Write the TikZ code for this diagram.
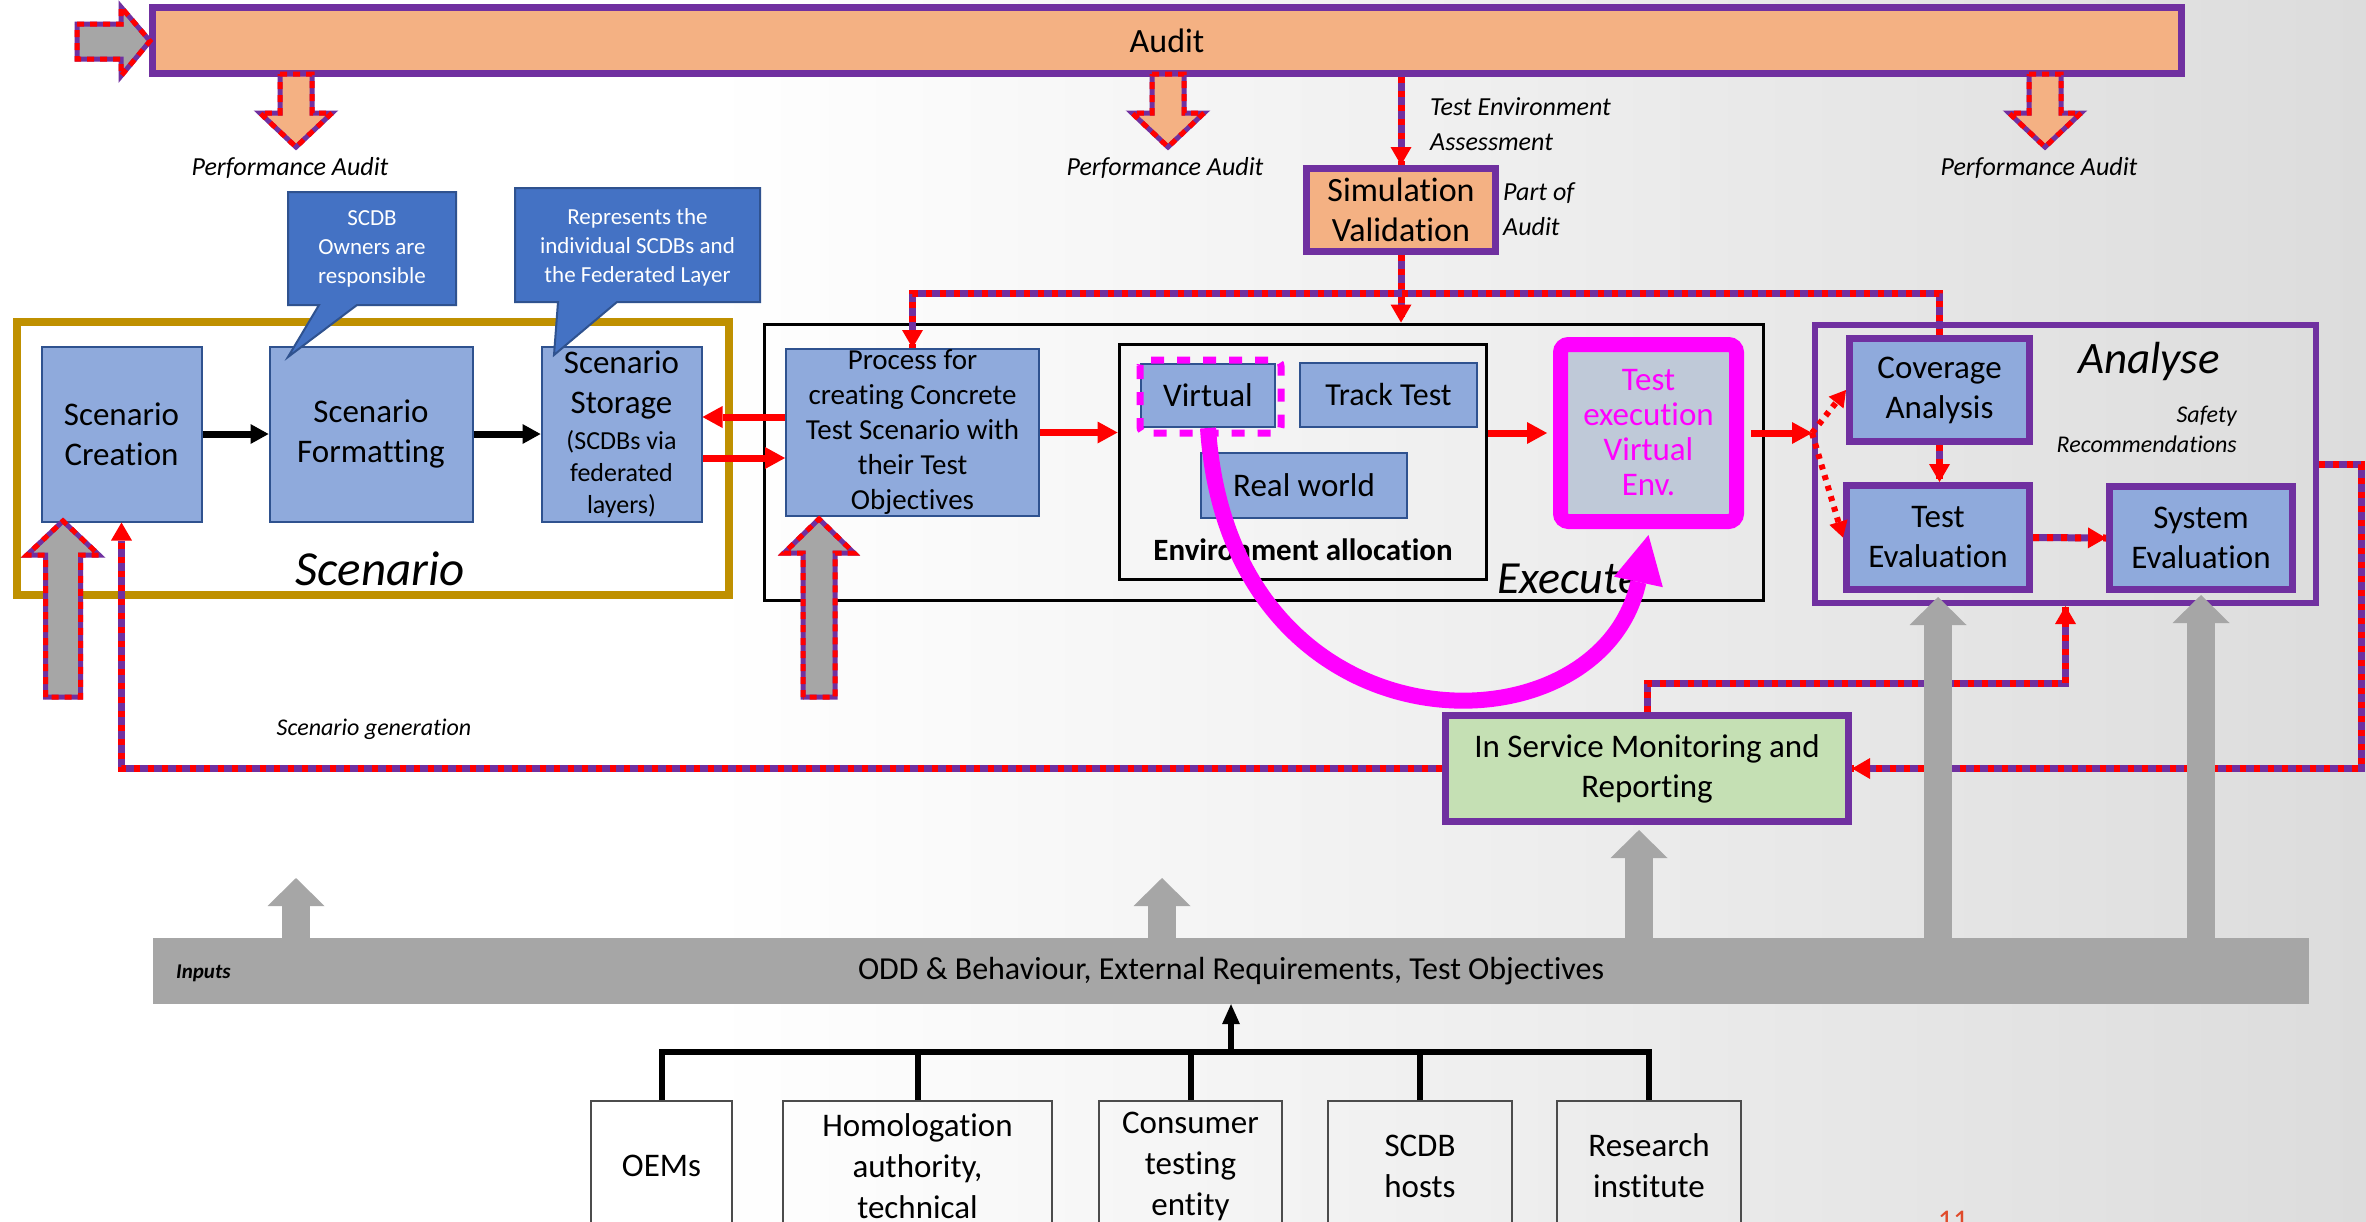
\documentclass[tikz,border=0pt]{standalone}
\usepackage{fontspec}
\setmainfont{Carlito}[Ligatures={NoCommon}]
\usetikzlibrary{arrows.meta}

\definecolor{auditpurple}{HTML}{7030A0}
\definecolor{auditorange}{HTML}{F4B183}
\definecolor{boxblue}{HTML}{8FAADC}
\definecolor{boxnavy}{HTML}{2F528F}
\definecolor{calloutblue}{HTML}{4472C4}
\definecolor{scenariogold}{HTML}{BF9000}
\definecolor{inputgray}{HTML}{A6A6A6}
\definecolor{monitorgreen}{HTML}{C5E0B4}
\definecolor{execfill}{HTML}{BFC9D8}
\definecolor{bgright}{HTML}{DCDCDC}
\definecolor{pagenum}{HTML}{E04A2A}
\definecolor{hotpink}{HTML}{FF00FF}

\pgfdeclarehorizontalshading{pagebg}{100bp}{color(0bp)=(white); color(40bp)=(white); color(75bp)=(bgright); color(100bp)=(bgright)}

\newcommand{\fsz}[2]{\fontsize{#1}{#2}\selectfont}

\tikzset{
  prline/.style={draw=auditpurple, line width=7pt,
    postaction={draw=red, line width=7pt, dash pattern=on 6pt off 8pt, -}},
  prtip/.style={-{Triangle[length=18pt,width=21pt,color=red,line width=0pt]}},
  blockpr/.style={draw=auditpurple, line width=5pt, line join=miter,
    postaction={draw=red, line width=5pt, dash pattern=on 7pt off 6pt}},
  redarrow/.style={draw=red, line width=7pt, -{Triangle[length=20pt,width=22pt,line width=0pt]}},
  reddot/.style={draw=red, line width=6pt, dash pattern=on 5pt off 6pt,
    -{Triangle[length=16pt,width=19pt,line width=0pt]}},
  blackarrow/.style={draw=black, line width=7pt, -{Triangle[length=18pt,width=20pt,line width=0pt]}},
  grayarrow/.style={draw=inputgray, line width=28pt, -{Triangle[length=28pt,width=57pt,line width=0pt]}},
  treeline/.style={draw=black, line width=6pt, line join=miter},
  bluebox/.style={rectangle, fill=boxblue, draw=boxnavy, line width=2pt, inner sep=0pt,
    align=center, font=\fsz{33}{40}},
  purplebox/.style={bluebox, draw=auditpurple, line width=7pt},
  auditbox/.style={rectangle, fill=auditorange, draw=auditpurple, line width=7pt, inner sep=0pt,
    align=center, font=\fsz{34}{40}},
  frame/.style={rectangle, inner sep=0pt},
  callout/.style={fill=calloutblue, draw=boxnavy, line width=2pt},
  callouttext/.style={text=white, align=center, inner sep=0pt, font=\fsz{23}{29}},
  lbl/.style={inner sep=0pt, font=\itshape\fsz{26}{35}},
  srcbox/.style={rectangle, draw=black!70, line width=2pt, minimum height=130pt, inner sep=0pt,
    align=center, font=\fsz{33}{41}},
}

\begin{document}
\begin{tikzpicture}[x=1pt,y=-1pt]
\useasboundingbox (0,0) rectangle (2366,1221);
\shade[shading=pagebg] (0,0) rectangle (2366,1221);

% ---------- audit band ----------
\node[auditbox, minimum width=2029pt, minimum height=66pt] (audit) at (1167,40.5) {Audit};
\draw[blockpr, fill=inputgray] (77,24) -- (121,24) -- (121,7) -- (150,41) -- (121,76) -- (121,59) -- (77,59) -- cycle;
\foreach \cx in {296,1168,2045}{
  \draw[blockpr, fill=auditorange] ({\cx-16},74) -- ({\cx+16},74) -- ({\cx+16},113) -- ({\cx+36},113)
    -- (\cx,147) -- ({\cx-36},113) -- ({\cx-16},113) -- cycle;
}
\node[lbl] (pa1) at (290,168) {Performance Audit};
\node[lbl] (pa2) at (1165,168) {Performance Audit};
\node[lbl] (pa3) at (2039,168) {Performance Audit};

\node[auditbox, minimum width=189pt, minimum height=83pt] (simval) at (1401,210) {Simulation\\Validation};
\node[lbl, anchor=west, align=left] (tealbl) at (1430,124.5) {Test Environment\\Assessment};
\node[lbl, anchor=west, align=left] (partlbl) at (1503,209.5) {Part of\\Audit};

% ---------- scenario block ----------
\node[frame, draw=scenariogold, line width=8pt, minimum width=712pt, minimum height=273pt] (scen) at (373,458.5) {};
\node[bluebox, minimum width=160pt, minimum height=175pt] (creation) at (121.5,434) {Scenario\\Creation};
\node[bluebox, minimum width=203pt, minimum height=175pt] (formatting) at (371,434) {Scenario\\Formatting};
\node[bluebox, minimum width=160pt, minimum height=175pt] (storage) at (621.5,434)
  {Scenario\\Storage\\[-4pt]{\fsz{26}{32}(SCDBs via}\\[-8pt]{\fsz{26}{32}federated}\\[-8pt]{\fsz{26}{32}layers)}};
\node[inner sep=0pt, font=\itshape\fsz{49}{58}] (scenlbl) at (380,569) {Scenario};

\draw[callout] (288,192) -- (456,192) -- (456,305) -- (357,305) -- (288,357) -- (319,305) -- (288,305) -- cycle;
\node[callouttext] (call1) at (372,249) {SCDB\\Owners are\\responsible};
\draw[callout] (515,188) -- (760,188) -- (760,302) -- (617,302) -- (554,355) -- (558,302) -- (515,302) -- cycle;
\node[callouttext] (call2) at (637.5,247) {Represents the\\individual SCDBs and\\the Federated Layer};

% ---------- execute block ----------
\node[frame, draw=black, line width=3pt, minimum width=999pt, minimum height=276pt] (exec) at (1263.5,462) {};
\node[inner sep=0pt, font=\itshape\fsz{46}{54}, anchor=base west] (execlbl) at (1497,593) {Execute};
\node[bluebox, minimum width=253pt, minimum height=167pt, font=\fsz{29}{35}] (process) at (912.5,432.5)
  {Process for\\creating Concrete\\Test Scenario with\\their Test\\Objectives};
\node[frame, draw=black, line width=3pt, minimum width=367pt, minimum height=235pt] (envalloc) at (1302.5,461.5) {};
\node[inner sep=0pt, font=\bfseries\fsz{31}{37}] (envlbl) at (1303,550) {Environment allocation};
\node[bluebox, minimum width=134pt, minimum height=63pt] (virtual) at (1208,395.5) {Virtual};
\draw[hotpink, line width=7pt, dash pattern=on 13pt off 13pt, rounded corners=6pt]
  ([yshift=3pt]virtual.north west) rectangle ([xshift=5pt,yshift=-5pt]virtual.south east);
\node[bluebox, minimum width=177pt, minimum height=64pt, font=\fsz{32}{38}] (track) at (1388.5,395) {Track Test};
\node[bluebox, minimum width=206pt, minimum height=65pt] (real) at (1304,485.5) {Real world};
\node[rectangle, draw=hotpink, line width=15pt, fill=execfill, rounded corners=8pt, minimum width=176pt,
  minimum height=177pt, text=hotpink, font=\fsz{33}{35}, align=center, inner sep=0pt] (testexec)
  at (1648.5,433) {Test\\execution\\Virtual\\Env.};

% ---------- analyse block ----------
\node[frame, draw=auditpurple, line width=6pt, minimum width=501pt, minimum height=278pt] (analyse) at (2065.5,464) {};
\node[inner sep=0pt, font=\itshape\fsz{45}{54}, anchor=base] (anlbl) at (2149,373) {Analyse};
\node[inner sep=0pt, font=\itshape\fsz{24}{30}, align=right, anchor=east] (safety) at (2237,429) {Safety\\Recommendations};
\node[purplebox, minimum width=180pt, minimum height=103pt] (coverage) at (1939.5,390) {Coverage\\Analysis};
\node[purplebox, minimum width=183pt, minimum height=104pt] (testeval) at (1938,537.5) {Test\\Evaluation};
\node[purplebox, minimum width=183pt, minimum height=103pt] (syseval) at (2201,538) {System\\Evaluation};

% ---------- monitoring and inputs ----------
\node[purplebox, fill=monitorgreen, minimum width=403pt, minimum height=106pt] (ism) at (1647,768.5)
  {In Service Monitoring and\\Reporting};
\node[inner sep=0pt, font=\itshape\fsz{24}{30}] (sglbl) at (374,729) {Scenario generation};
\node[rectangle, fill=inputgray, minimum width=2156pt, minimum height=66pt, inner sep=0pt, font=\fsz{32}{38}]
  (inputs) at (1231,971) {ODD \& Behaviour, External Requirements, Test Objectives};
\node[inner sep=0pt, font=\bfseries\itshape\fsz{21}{26}, anchor=west] (inlbl) at (176,973) {Inputs};

\node[srcbox, minimum width=141pt] (oems) at (661.5,1166) {OEMs};
\node[srcbox, minimum width=269pt] (homol) at (917.5,1166) {Homologation\\authority,\\technical};
\node[srcbox, minimum width=183pt] (consumer) at (1190.5,1166) {Consumer\\testing\\entity};
\node[srcbox, minimum width=184pt] (scdb) at (1420,1166) {SCDB\\hosts};
\node[srcbox, minimum width=184pt] (research) at (1649,1166) {Research\\institute};

% ---------- contributor tree ----------
\coordinate (jn) at (1231,1052);
\draw[treeline] (oems.north) -- (oems.north |- jn) -- (research.north |- jn) -- (research.north);
\foreach \b in {homol,consumer,scdb}{ \draw[treeline] (\b.north) -- (\b.north |- jn); }
\draw[treeline, -{Triangle[length=20pt,width=18pt,line width=0pt]}] (jn) -- (inputs.south);

% ---------- feedback connectors ----------
\coordinate (topbus) at (1400,293);
\coordinate (rbus) at (2361,768.5);
\coordinate (mbus) at (1646,683);
\draw[prline, prtip] (audit.south -| simval.north) -- (simval.north);
\draw[prline, prtip] (simval.south) -- (simval.south |- exec.north);
\draw[prline, prtip] (coverage.north) -- (coverage.north |- topbus) -- (process.north |- topbus) -- (process.north);
\draw[prline, prtip] (coverage.south) -- (coverage.south |- testeval.north);
\draw[prline, prtip] (testeval.east) -- (syseval.west);
\draw[prline, prtip] (analyse.east) -- (analyse.east -| rbus) -- (rbus) -- (ism.east);
\draw[prline, prtip] (ism.north) -- (ism.north |- mbus) -- (analyse.south |- mbus) -- (analyse.south);
\draw[prline, prtip] (ism.west) -- (ism.west -| creation.south) -- (creation.south);

% ---------- input arrows ----------
\draw[blockpr, fill=inputgray] (45.5,697) -- (45.5,555) -- (27,555) -- (63,521) -- (99,555) -- (80.5,555) -- (80.5,697) -- cycle;
\draw[blockpr, fill=inputgray] (803,697) -- (803,553) -- (784,553) -- (819,519) -- (854,553) -- (835,553) -- (835,697) -- cycle;
\coordinate (in1) at (296,878);
\coordinate (in2) at (1162,878);
\coordinate (inism) at ([xshift=-8pt,yshift=-5pt]ism.south);
\draw[grayarrow] (inputs.north -| in1) -- (in1);
\draw[grayarrow] (inputs.north -| in2) -- (in2);
\draw[grayarrow] (inputs.north -| inism) -- (inism);
\draw[grayarrow] (inputs.north -| testeval.south) -- ([yshift=-4pt]testeval.south);
\draw[grayarrow] (inputs.north -| syseval.south) -- ([yshift=-2pt]syseval.south);

% ---------- main flow arrows ----------
\draw[blackarrow] (creation.east) -- (formatting.west);
\draw[blackarrow] (formatting.east) -- (storage.west);
\coordinate (pu) at ([yshift=15.5pt]process.west);
\coordinate (pl) at ([yshift=-25.5pt]process.west);
\draw[redarrow] (pu) -- (pu -| storage.east);
\draw[redarrow] (pl -| storage.east) -- (pl);
\draw[redarrow] (process.east) -- (process.east -| envalloc.west);
\coordinate (tein) at ([xshift=-6pt]testexec.west);
\draw[redarrow] (tein -| envalloc.east) -- (tein);
\coordinate (split) at (testexec.east -| analyse.west);
\draw[redarrow] ([xshift=7pt]testexec.east) -- (split);
\draw[reddot] (split) -- (coverage.west);
\draw[reddot] (split) -- (testeval.west);

% ---------- virtual-to-execution arc ----------
\draw[hotpink, line width=16pt, -{Triangle[length=48pt,width=50pt,line width=0pt]}]
  (virtual.south) .. controls (1230,760) and (1600,760) .. ([yshift=-6pt]testexec.south);

\node[inner sep=0pt, anchor=north, text=pagenum, font=\fsz{30}{36}] (pgnum) at (1953,1211) {11};
\end{tikzpicture}
\end{document}
